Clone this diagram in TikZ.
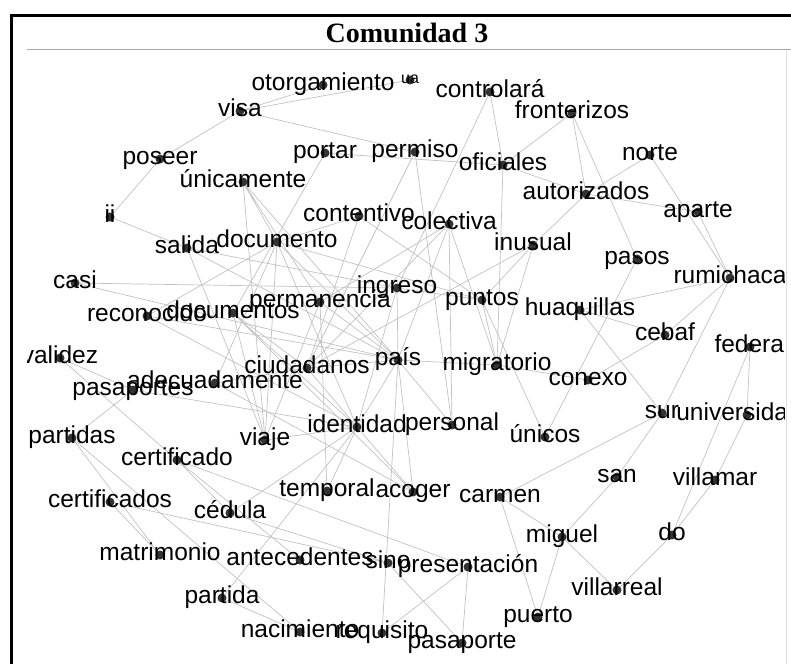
\documentclass[tikz,border=0pt]{standalone}
\usepackage{fontspec}
\newfontfamily\wordfont{Liberation Sans}
\newfontfamily\titlefont{Liberation Serif}
\pgfdeclarelayer{edges}
\pgfsetlayers{edges,main}

\begin{document}
\begin{tikzpicture}[x=1pt,y=-1pt,
    dot/.style={circle,fill=black!80,inner sep=0pt,minimum size=9pt},
    word/.style={font=\wordfont\fontsize{24.5}{26}\selectfont,inner sep=0pt,text height=10pt,text depth=0pt},
    link/.style={draw=black!24,line width=0.7pt}]
\useasboundingbox (0,0) rectangle (791,664);

	\draw[line width=3pt] (11.5,664) -- (11.5,15) -- (791,15);
	\node[font=\titlefont\bfseries\fontsize{28}{30}\selectfont] (title) at (407,33) {Comunidad 3};
	\draw[black!35,line width=1pt] (27,49) -- (791,49);
	\draw[black!12,line width=1pt] (786,50) -- (786,664);

\begin{scope}
	\clip (27,50) rectangle (784,664);
	% words
	\node[dot,label={[word]center:otorgamiento}] (otorgamiento) at (323,85) {};
	\node[dot,label={[word,font=\wordfont\fontsize{16}{18}\selectfont,text height=7pt]center:ua}] (ua) at (410,80) {};
	\node[dot,label={[word]center:controlará}] (controlara) at (490,92) {};
	\node[dot,label={[word]center:visa}] (visa) at (240,111) {};
	\node[dot,label={[word]center:fronterizos}] (fronterizos) at (572,113) {};
	\node[dot,label={[word]center:poseer}] (poseer) at (160,159) {};
	\node[dot,label={[word]center:portar}] (portar) at (325,153) {};
	\node[dot,label={[word]center:permiso}] (permiso) at (415,152) {};
	\node[dot,label={[word]center:oficiales}] (oficiales) at (503,165) {};
	\node[dot,label={[word]center:norte}] (norte) at (650,155) {};
	\node[dot,label={[word]center:únicamente}] (unicamente) at (243,182) {};
	\node[dot,label={[word]center:autorizados}] (autorizados) at (586,194) {};
	\node[dot,label={[word]center:aparte}] (aparte) at (698,212) {};
	\node[dot,label={[word]center:ii}] (ii) at (110,217) {};
	\node[dot,label={[word]center:contentivo}] (contentivo) at (359,216) {};
	\node[dot,label={[word]center:colectiva}] (colectiva) at (449,224) {};
	\node[dot,label={[word]center:inusual}] (inusual) at (533,245) {};
	\node[dot,label={[word]center:salida}] (salida) at (187,248) {};
	\node[dot,label={[word]center:documento}] (documento) at (277,242) {};
	\node[dot,label={[word]center:pasos}] (pasos) at (637,259) {};
	\node[dot,label={[word]center:casi}] (casi) at (75,283) {};
	\node[dot,label={[word]center:rumichaca}] (rumichaca) at (730,278) {};
	\node[dot,label={[word]center:ingreso}] (ingreso) at (397,288) {};
	\node[dot,label={[word]center:permanencia}] (permanencia) at (320,302) {};
	\node[dot,label={[word]center:puntos}] (puntos) at (482,300) {};
	\node[dot,label={[word]center:reconocido}] (reconocido) at (147,316) {};
	\node[dot,label={[word]center:documentos}] (documentos) at (233,313) {};
	\node[dot,label={[word]center:huaquillas}] (huaquillas) at (580,310) {};
	\node[dot,label={[word]center:cebaf}] (cebaf) at (665,335) {};
	\node[dot,label={[word,xshift=2pt]center:federal}] (federal) at (750,347) {};
	\node[dot,label={[word]center:validez}] (validez) at (60,358) {};
	\node[dot,label={[word]center:ciudadanos}] (ciudadanos) at (307,368) {};
	\node[dot,label={[word]center:país}] (pais) at (398,360) {};
	\node[dot,label={[word]center:migratorio}] (migratorio) at (497,365) {};
	\node[dot,label={[word]center:adecuadamente}] (adecuadamente) at (215,383) {};
	\node[dot,label={[word]center:conexo}] (conexo) at (588,380) {};
	\node[dot,label={[word]center:pasaportes}] (pasaportes) at (133,390) {};
	\node[dot,label={[word]center:identidad}] (identidad) at (357,427) {};
	\node[dot,label={[word]center:personal}] (personal) at (452,425) {};
	\node[dot,label={[word]center:sur}] (sur) at (662,413) {};
	\node[dot,label={[word,xshift=-8pt]center:universidad}] (universidad) at (747,415) {};
	\node[dot,label={[word]center:partidas}] (partidas) at (72,438) {};
	\node[dot,label={[word]center:viaje}] (viaje) at (265,440) {};
	\node[dot,label={[word]center:únicos}] (unicos) at (545,437) {};
	\node[dot,label={[word]center:certificado}] (certificado) at (177,460) {};
	\node[dot,label={[word]center:temporal}] (temporal) at (327,491) {};
	\node[dot,label={[word]center:acoger}] (acoger) at (413,492) {};
	\node[dot,label={[word]center:san}] (san) at (617,477) {};
	\node[dot,label={[word]center:villamar}] (villamar) at (715,480) {};
	\node[dot,label={[word]center:carmen}] (carmen) at (500,497) {};
	\node[dot,label={[word]center:certificados}] (certificados) at (110,502) {};
	\node[dot,label={[word]center:cédula}] (cedula) at (230,513) {};
	\node[dot,label={[word]center:miguel}] (miguel) at (562,537) {};
	\node[dot,label={[word]center:do}] (do) at (672,535) {};
	\node[dot,label={[word]center:matrimonio}] (matrimonio) at (160,555) {};
	\node[dot,label={[word]center:antecedentes}] (antecedentes) at (300,560) {};
	\node[dot,label={[word]center:sino}] (sino) at (388,563) {};
	\node[dot,label={[word]center:presentación}] (presentacion) at (468,567) {};
	\node[dot,label={[word]center:villarreal}] (villarreal) at (617,590) {};
	\node[dot,label={[word]center:partida}] (partida) at (222,598) {};
	\node[dot,label={[word]center:puerto}] (puerto) at (538,617) {};
	\node[dot,label={[word]center:nacimiento}] (nacimiento) at (300,632) {};
	\node[dot,label={[word]center:requisito}] (requisito) at (382,633) {};
	\node[dot,label={[word]center:pasaporte}] (pasaporte) at (462,643) {};
\end{scope}

\begin{pgfonlayer}{edges}
	% links
	\draw[link] (visa) -- (otorgamiento) (visa) -- (ua) (visa) -- (permiso) (visa) -- (poseer);
	\draw[link] (poseer) -- (ii) (ii) -- (salida);
	\draw[link] (portar) -- (oficiales) (portar) -- (documentos);
	\draw[link] (permiso) -- (ciudadanos) (permiso) -- (personal);
	\draw[link] (controlara) -- (ingreso) (controlara) -- (oficiales) (oficiales) -- (migratorio);
	\draw[link] (fronterizos) -- (oficiales) (fronterizos) -- (autorizados) (fronterizos) -- (pasos);
	\draw[link] (oficiales) -- (autorizados) (norte) -- (autorizados) (norte) -- (rumichaca);
	\draw[link] (autorizados) -- (aparte) (aparte) -- (rumichaca) (autorizados) -- (inusual);
	\draw[link] (pasos) -- (unicos);
	\draw[link] (huaquillas) -- (rumichaca) (huaquillas) -- (cebaf) (huaquillas) -- (sur);
	\draw[link] (rumichaca) -- (cebaf) (cebaf) -- (conexo) (rumichaca) -- (sur);
	\draw[link] (sur) -- (san) (san) -- (miguel) (sur) -- (carmen);
	\draw[link] (federal) -- (universidad) (federal) -- (do) (universidad) -- (villamar) (villamar) -- (do);
	\draw[link] (do) -- (villarreal) (miguel) -- (villarreal) (miguel) -- (puerto);
	\draw[link] (carmen) -- (puerto) (carmen) -- (miguel);
	\draw[link] (presentacion) -- (pasaporte) (presentacion) -- (requisito) (sino) -- (pasaporte);
	\draw[link] (certificado) -- (presentacion) (pais) -- (requisito);
	\draw[link] (unicamente) -- (documento) (unicamente) -- (viaje) (unicamente) -- (permanencia) (unicamente) -- (pais);
	\draw[link] (contentivo) -- (documento) (contentivo) -- (ciudadanos) (contentivo) -- (puntos);
	\draw[link] (colectiva) -- (personal) (colectiva) -- (pais) (colectiva) -- (migratorio) (colectiva) -- (ciudadanos);
	\draw[link] (inusual) -- (puntos) (inusual) -- (migratorio) (inusual) -- (ciudadanos);
	\draw[link] (salida) -- (ingreso) (salida) -- (pais) (salida) -- (viaje);
	\draw[link] (documento) -- (reconocido) (documento) -- (pais) (documento) -- (identidad)
		(documento) -- (viaje) (documento) -- (adecuadamente) (documento) -- (puntos);
	\draw[link] (casi) -- (ingreso) (casi) -- (pais);
	\draw[link] (ingreso) -- (pais) (ingreso) -- (puntos) (ingreso) -- (identidad);
	\draw[link] (permanencia) -- (pais) (permanencia) -- (temporal) (permanencia) -- (viaje) (permanencia) -- (colectiva);
	\draw[link] (reconocido) -- (pais) (reconocido) -- (identidad);
	\draw[link] (documentos) -- (viaje) (documentos) -- (identidad) (documentos) -- (acoger) (documentos) -- (ciudadanos);
	\draw[link] (ciudadanos) -- (pais) (ciudadanos) -- (identidad);
	\draw[link] (pais) -- (migratorio) (migratorio) -- (conexo) (migratorio) -- (puntos) (puntos) -- (unicos);
	\draw[link] (pais) -- (personal) (pais) -- (acoger) (pais) -- (identidad);
	\draw[link] (adecuadamente) -- (acoger) (adecuadamente) -- (ciudadanos);
	\draw[link] (viaje) -- (identidad) (pasaportes) -- (identidad) (pasaportes) -- (partidas);
	\draw[link] (validez) -- (pasaportes) (validez) -- (certificado);
	\draw[link] (identidad) -- (temporal) (identidad) -- (acoger) (identidad) -- (cedula) (identidad) -- (partida);
	\draw[link] (certificado) -- (cedula) (certificado) -- (antecedentes);
	\draw[link] (partidas) -- (matrimonio) (partidas) -- (nacimiento);
	\draw[link] (certificados) -- (matrimonio) (certificados) -- (sino) (cedula) -- (sino);
	\draw[link] (partida) -- (nacimiento);
\end{pgfonlayer}
\end{tikzpicture}
\end{document}
